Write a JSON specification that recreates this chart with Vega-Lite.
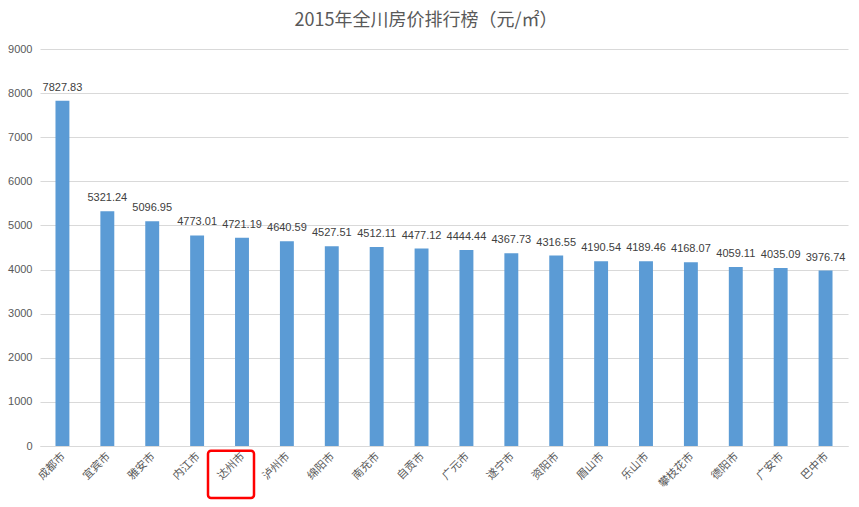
{
  "$schema": "https://vega.github.io/schema/vega-lite/v6.json",
  "width": 808,
  "height": 397,
  "autosize": {"type": "none"},
  "padding": {"left": 40, "top": 49, "right": 11, "bottom": 61},
  "background": "white",
  "title": {
    "text": "2015年全川房价排行榜（元/㎡）",
    "font": "Noto Sans CJK SC",
    "fontSize": 18,
    "fontWeight": "normal",
    "color": "#595959",
    "offset": 13,
    "dx": -18
  },
  "config": {
    "view": {"stroke": null},
    "axis": {"labelFont": "Liberation Sans", "labelColor": "#595959", "labelFontSize": 11}
  },
  "data": {
    "values": [
      {"city": "成都市", "price": 7827.83},
      {"city": "宜宾市", "price": 5321.24},
      {"city": "雅安市", "price": 5096.95},
      {"city": "内江市", "price": 4773.01},
      {"city": "达州市", "price": 4721.19},
      {"city": "泸州市", "price": 4640.59},
      {"city": "绵阳市", "price": 4527.51},
      {"city": "南充市", "price": 4512.11},
      {"city": "自贡市", "price": 4477.12},
      {"city": "广元市", "price": 4444.44},
      {"city": "遂宁市", "price": 4367.73},
      {"city": "资阳市", "price": 4316.55},
      {"city": "眉山市", "price": 4190.54},
      {"city": "乐山市", "price": 4189.46},
      {"city": "攀枝花市", "price": 4168.07},
      {"city": "德阳市", "price": 4059.11},
      {"city": "广安市", "price": 4035.09},
      {"city": "巴中市", "price": 3976.74}
    ]
  },
  "encoding": {
    "x": {
      "field": "city",
      "type": "nominal",
      "sort": null,
      "scale": {"paddingInner": 0.69, "paddingOuter": 0.345},
      "axis": {
        "title": null,
        "labelAngle": -45,
        "labelFont": "Noto Sans CJK SC",
        "labelFontSize": 11,
        "ticks": false,
        "domainColor": "#d9d9d9",
        "labelPadding": 4,
        "labelOffset": -3
      }
    },
    "y": {
      "field": "price",
      "type": "quantitative",
      "scale": {"domain": [0, 9000], "nice": false},
      "axis": {
        "title": null,
        "values": [0, 1000, 2000, 3000, 4000, 5000, 6000, 7000, 8000, 9000],
        "format": "d",
        "ticks": false,
        "domain": false,
        "gridColor": "#d9d9d9",
        "labelPadding": 8
      }
    }
  },
  "layer": [
    {"mark": {"type": "bar", "color": "#5B9BD5"}},
    {
      "mark": {"type": "text", "baseline": "bottom", "dy": -8, "font": "Liberation Sans", "fontSize": 11, "color": "#404040"},
      "encoding": {"text": {"field": "price", "type": "quantitative", "format": ".2f"}}
    },
    {
      "transform": [{"filter": "datum.city === '达州市'"}],
      "mark": {"type": "rect", "fill": null, "fillOpacity": 0, "stroke": "#FF0000", "strokeWidth": 2.5, "cornerRadius": 3, "width": 46, "xOffset": -11, "clip": false},
      "encoding": {
        "y": {"datum": -110},
        "y2": {"datum": -1180}
      }
    }
  ]
}
